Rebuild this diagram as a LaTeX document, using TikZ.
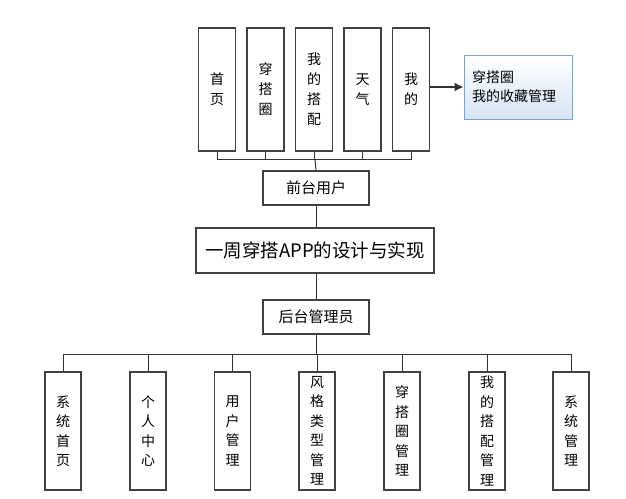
\documentclass[tikz,border=0pt]{standalone}
\usepackage{fontspec}
\usepackage{xcolor}
\usepackage{tikz}
\usetikzlibrary{arrows.meta}
\setmainfont{Noto Sans CJK SC}
\definecolor{infofill}{RGB}{214,228,244}
\definecolor{infoline}{RGB}{130,160,200}

\begin{document}
\begin{tikzpicture}[x=1pt, y=-1pt,
    topbox/.style={draw=black!75, line width=1.1pt, fill=white, minimum width=37pt, minimum height=123pt,
        inner sep=0pt, align=center, font=\fontsize{14}{20}\selectfont},
    lowbox/.style={topbox, minimum width=36pt, minimum height=118pt, font=\fontsize{14}{19.5}\selectfont},
    midbox/.style={draw=black!75, line width=1.1pt, minimum width=106pt, minimum height=34pt,
        inner sep=0pt, font=\fontsize{15}{16}\selectfont},
    link/.style={draw=black!80, line width=1pt}]
             \useasboundingbox (0,0) rectangle (626,498);

             % front end
             \node[topbox] (t1) at (217, 89.5) {首\\页};
             \node[topbox] (t2) at (265.5, 89.5) {穿\\搭\\圈};
             \node[topbox] (t3) at (314, 89.5) {我\\的\\搭\\配};
             \node[topbox] (t4) at (362.5, 89.5) {天\\气};
             \node[topbox] (t5) at (411, 89.5) {我\\的};

             \node[draw=infoline, line width=.8pt, top color=white, bottom color=infofill,
                   minimum width=108pt, minimum height=64pt, inner sep=8pt, text width=92pt,
                   align=left, font=\fontsize{14}{19}\selectfont] (info) at (518, 87) {穿搭圈\\我的收藏管理};
             \draw[link, line width=1.5pt, -{Latex[length=9pt,width=9pt]}] (info.west -| t5.east) -- (info.west);

             \coordinate (topbus) at (315, 159);
             \draw[link] (t1.south) |- (topbus);
             \draw[link] (t2.south) |- (topbus);
             \draw[link] (t3.south) |- (topbus);
             \draw[link] (t4.south) |- (topbus);
             \draw[link] (t5.south) |- (topbus);

             \node[midbox] (front) at (316, 188) {前台用户};
             \draw[link] (topbus) -- (front.north);

             \node[draw=black!75, line width=1.1pt, minimum width=238pt, minimum height=45pt, inner sep=0pt,
                   font=\fontsize{18.5}{20}\selectfont] (title) at (315, 250.5) {一周穿搭APP的设计与实现};
             \draw[link] (front.south) -- (front.south |- title.north);

             \node[midbox] (back) at (316, 317) {后台管理员};
             \draw[link] (title.south -| back.north) -- (back.north);

             % back end
             \node[lowbox] (b1) at (63, 431) {系\\统\\首\\页};
             \node[lowbox] (b2) at (148, 431) {个\\人\\中\\心};
             \node[lowbox] (b3) at (232.5, 431) {用\\户\\管\\理};
             \node[lowbox] (b4) at (317, 431) {风\\格\\类\\型\\管\\理};
             \node[lowbox] (b5) at (402, 431) {穿\\搭\\圈\\管\\理};
             \node[lowbox] (b6) at (487, 431) {我\\的\\搭\\配\\管\\理};
             \node[lowbox] (b7) at (571, 431) {系\\统\\管\\理};

             \coordinate (lowbus) at (316, 354);
             \draw[link] (back.south) -- (lowbus);
             \draw[link] (b1.north) |- (lowbus);
             \draw[link] (b2.north) |- (lowbus);
             \draw[link] (b3.north) |- (lowbus);
             \draw[link] (b4.north) |- (lowbus);
             \draw[link] (b5.north) |- (lowbus);
             \draw[link] (b6.north) |- (lowbus);
             \draw[link] (b7.north) |- (lowbus);
\end{tikzpicture}
\end{document}
